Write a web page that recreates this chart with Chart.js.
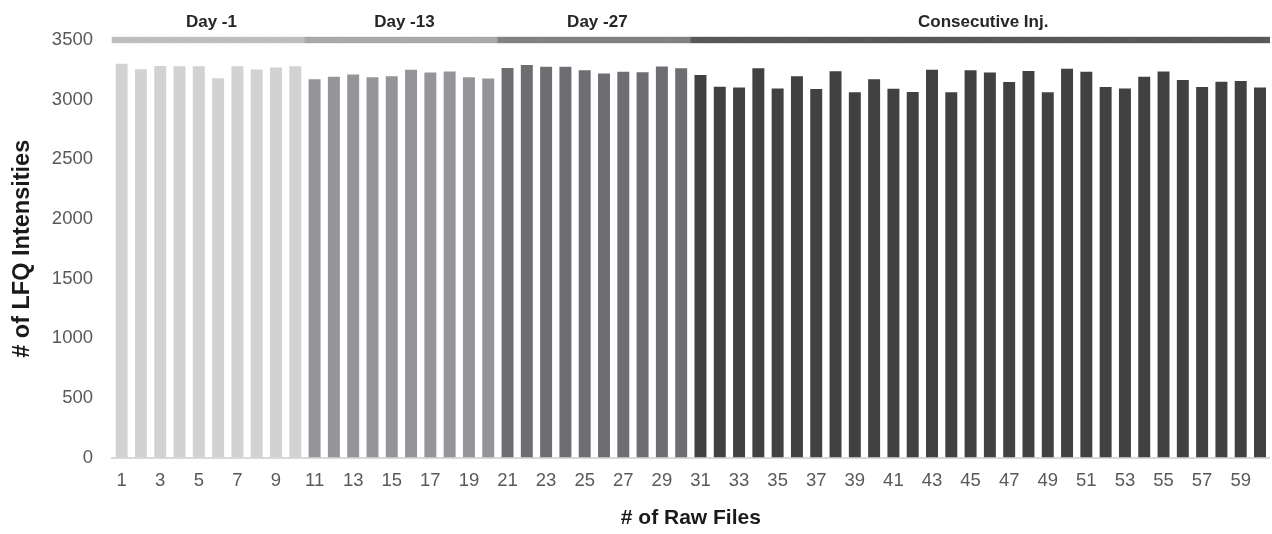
<!DOCTYPE html>
<html>
<head>
<meta charset="utf-8">
<script src="https://cdn.jsdelivr.net/npm/chart.js@4"></script>
<style>
  html, body { margin: 0; padding: 0; background: #fff; }
  #wrap { width: 1272px; height: 534px; }
</style>
</head>
<body>
<div id="wrap"><canvas id="rawFiles"></canvas></div>
<script>
// raw file numbers (x categories)
const files = [1, 2, 3, 4, 5, 6, 7, 8, 9, 10,
  11, 12, 13, 14, 15, 16, 17, 18, 19, 20,
  21, 22, 23, 24, 25, 26, 27, 28, 29, 30,
  31, 32, 33, 34, 35, 36, 37, 38, 39, 40,
  41, 42, 43, 44, 45, 46, 47, 48, 49, 50,
  51, 52, 53, 54, 55, 56, 57, 58, 59, 60];

// # of LFQ intensities per raw file
const lfqCounts = [3300, 3255, 3283, 3280, 3280, 3179, 3280, 3252, 3269, 3280,
  3171, 3193, 3210, 3188, 3196, 3250, 3227, 3235, 3188, 3178,
  3266, 3291, 3275, 3275, 3247, 3219, 3233, 3230, 3277, 3263,
  3207, 3109, 3101, 3263, 3093, 3196, 3090, 3238, 3062, 3171,
  3092, 3065, 3250, 3062, 3247, 3227, 3149, 3241, 3062, 3258,
  3233, 3107, 3093, 3193, 3235, 3165, 3107, 3151, 3157, 3101];

// groups of files
const groupNames = ['Day -1', 'Day -13', 'Day -27', 'Consecutive Inj.'];
const groupSizes = [10, 10, 10, 30];
const barColors = ['#d1d2d4', '#939598', '#6d6e71', '#414042'];
const bandColors = ['#bcbec0', '#a7a9ac', '#808285', '#58595b'];
const band = [3476, 3524]; // group marker band around the 3500 line

const yTicks = [0, 500, 1000, 1500, 2000, 2500, 3000, 3500];

// which group each file belongs to
const groupOf = [];
groupSizes.forEach((n, g) => { for (let i = 0; i < n; i++) groupOf.push(g); });

const groupLabels = {
  id: 'groupLabels',
  afterDatasetsDraw(chart) {
    const ctx = chart.ctx;
    const x = chart.scales.x;
    let start = 0;
    ctx.save();
    ctx.font = 'bold 17px "Liberation Sans", Arial, sans-serif';
    ctx.fillStyle = '#262626';
    ctx.textAlign = 'center';
    ctx.textBaseline = 'middle';
    groupNames.forEach((name, g) => {
      const end = start + groupSizes[g] - 1;
      const mid = (x.getPixelForValue(start) + x.getPixelForValue(end)) / 2;
      ctx.fillText(name, mid + 3, 22);
      start = end + 1;
    });
    ctx.restore();
  }
};

const tickFont = { family: '"Liberation Sans", Arial, sans-serif', size: 18.5 };
const titleFont = { family: '"Liberation Sans", Arial, sans-serif', size: 21, weight: 'bold' };

new Chart(document.getElementById('rawFiles'), {
  type: 'bar',
  data: {
    labels: files,
    datasets: [
      {
        label: 'groups',
        data: files.map(() => band),
        backgroundColor: groupOf.map(g => bandColors[g]),
        grouped: false,
        categoryPercentage: 1,
        barPercentage: 1,
        borderWidth: 0,
        clip: false
      },
      {
        label: '# of LFQ Intensities',
        data: lfqCounts,
        backgroundColor: groupOf.map(g => barColors[g]),
        grouped: false,
        categoryPercentage: 1,
        barPercentage: 0.62,
        borderWidth: 0
      }
    ]
  },
  options: {
    responsive: true,
    maintainAspectRatio: false,
    animation: false,
    layout: { padding: { top: 40, right: 0, bottom: 0, left: 0 } },
    plugins: {
      legend: { display: false },
      tooltip: { enabled: false }
    },
    scales: {
      x: {
        grid: { display: false, drawTicks: false },
        border: { display: true, color: '#d9d9d9', width: 2 },
        ticks: {
          autoSkip: false,
          maxRotation: 0,
          padding: 12,
          color: '#595959',
          font: tickFont,
          callback: (val, i) => (i % 2 === 0 ? files[i] : '')
        },
        title: {
          display: true,
          text: '# of Raw Files',
          color: '#1a1a1a',
          font: titleFont,
          padding: { top: 2, bottom: 3 }
        }
      },
      y: {
        min: 0,
        max: 3500,
        afterBuildTicks: s => { s.ticks = yTicks.map(v => ({ value: v })); },
        afterFit: s => { s.width = 112; },
        grid: { display: false, drawTicks: false },
        border: { display: false },
        ticks: {
          padding: 19,
          color: '#595959',
          font: tickFont,
          callback: v => String(v)
        },
        title: {
          display: true,
          text: '# of LFQ Intensities',
          color: '#1a1a1a',
          font: { family: '"Liberation Sans", Arial, sans-serif', size: 23.5, weight: 'bold' },
          padding: { top: 8, bottom: 0 }
        }
      }
    }
  },
  plugins: [groupLabels]
});
</script>
</body>
</html>
